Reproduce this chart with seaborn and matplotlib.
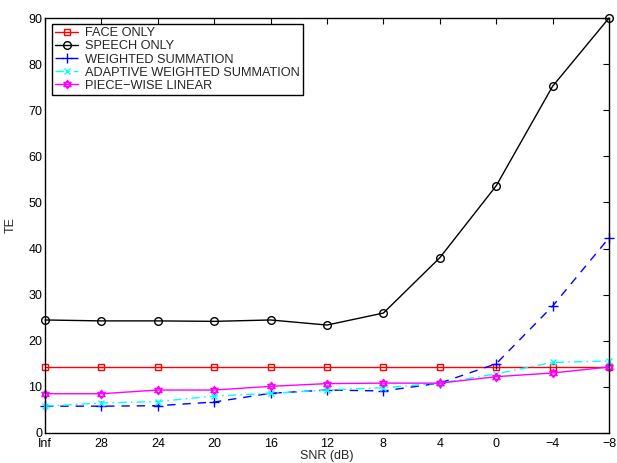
import matplotlib
matplotlib.use("Agg")
import matplotlib.pyplot as plt
from matplotlib.path import Path
import seaborn as sns
import pandas as pd
import numpy as np

snr_labels = ["Inf", "28", "24", "20", "16", "12", "8", "4", "0", "\u22124", "\u22128"]
face_only = [14.3, 14.3, 14.3, 14.3, 14.3, 14.3, 14.3, 14.3, 14.3, 14.3, 14.3]
speech_only = [24.5, 24.3, 24.3, 24.2, 24.5, 23.4, 26.0, 38.0, 53.6, 75.2, 90.0]
weighted_sum = [5.8, 5.8, 5.9, 6.7, 8.6, 9.3, 9.1, 10.8, 15.0, 27.5, 42.3]
adaptive_ws = [5.8, 6.5, 6.8, 8.0, 8.6, 9.3, 9.8, 10.8, 12.8, 15.3, 15.6]
piecewise = [8.5, 8.5, 9.3, 9.3, 10.1, 10.7, 10.8, 10.8, 12.2, 13.0, 14.3]
series_names = ["FACE ONLY", "SPEECH ONLY", "WEIGHTED SUMMATION",
                "ADAPTIVE WEIGHTED SUMMATION", "PIECE\u2212WISE LINEAR"]

sns.set_theme(style="white")
plt.rcParams['font.family'] = ['Liberation Sans', 'DejaVu Sans']
plt.rcParams['axes.unicode_minus'] = True

x_idx = list(range(len(snr_labels)))
frames = []
for name, vals in zip(series_names, [face_only, speech_only, weighted_sum, adaptive_ws, piecewise]):
    frames.append(pd.DataFrame({"x": x_idx, "TE": vals, "series": name}))
df = pd.concat(frames, ignore_index=True)

# hexagram marker
up = Path([(0, 1), (-0.866, -0.5), (0.866, -0.5), (0, 1)],
          [Path.MOVETO, Path.LINETO, Path.LINETO, Path.CLOSEPOLY])
dn = Path([(0, -1), (-0.866, 0.5), (0.866, 0.5), (0, -1)],
          [Path.MOVETO, Path.LINETO, Path.LINETO, Path.CLOSEPOLY])
hexagram = Path.make_compound_path(up, dn)

styles = {
    "FACE ONLY": dict(color="#ff0000", ls="-", marker="s", ms=5),
    "SPEECH ONLY": dict(color="#000000", ls="-", marker="o", ms=5.5),
    "WEIGHTED SUMMATION": dict(color="#0000ff", ls=(0, (6, 5)), marker="+", ms=6.5),
    "ADAPTIVE WEIGHTED SUMMATION": dict(color="#00ffff", ls=(0, (6, 3, 1.2, 3)), marker="x", ms=4.5),
    "PIECE\u2212WISE LINEAR": dict(color="#ff00ff", ls="-", marker=hexagram, ms=6),
}

fig = plt.figure(figsize=(6.17, 4.63), dpi=100)
ax = fig.add_axes([0.073, 0.065, 0.914, 0.896])

for name in series_names:
    st = styles[name]
    sub = df[df["series"] == name]
    sns.lineplot(data=sub, x="x", y="TE", ax=ax, color=st["color"], linestyle=st["ls"],
                 linewidth=1.0, marker=st["marker"], markersize=st["ms"],
                 markerfacecolor="none", markeredgecolor=st["color"], markeredgewidth=1.0,
                 label=name, clip_on=False)

ax.set_xlim(0, 10)
ax.set_ylim(0, 90)
ax.set_xticks(x_idx)
ax.set_xticklabels(snr_labels)
ax.set_yticks(np.arange(0, 91, 10))
ax.tick_params(direction="in", length=4, width=0.8, labelsize=9, top=True, right=True,
               colors="black", pad=2)
ax.tick_params(axis="x", pad=4)
for s in ax.spines.values():
    s.set_color("black")
    s.set_linewidth(1.0)
ax.set_xlabel("SNR (dB)", fontsize=9, labelpad=0)
ax.set_ylabel("TE", fontsize=9, labelpad=8)

leg = ax.legend(loc="upper left", fontsize=9.2, frameon=True, fancybox=False,
                edgecolor="black", framealpha=1, borderpad=0.25, labelspacing=0.08,
                handlelength=1.8, handletextpad=0.55, borderaxespad=0.0, numpoints=1,
                bbox_to_anchor=(0.0125, 0.985))
leg.get_frame().set_linewidth(1.0)

fig.savefig("out.png", dpi=100)
